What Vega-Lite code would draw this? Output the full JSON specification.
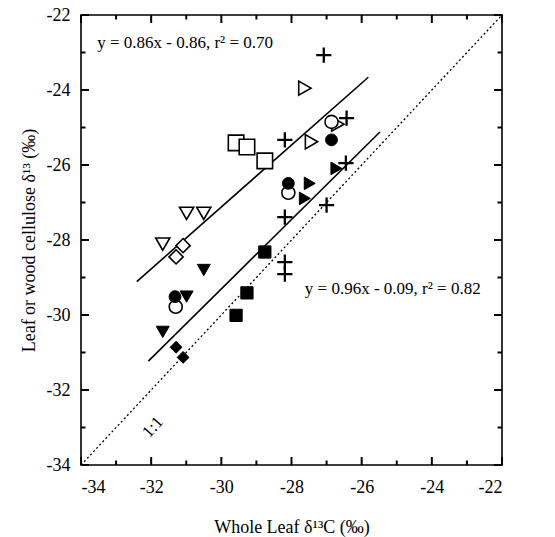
{
  "$schema": "https://vega.github.io/schema/vega-lite/v6.json",
  "width": 421,
  "height": 450,
  "autosize": {"type": "none"},
  "padding": {"left": 81, "top": 15, "right": 53, "bottom": 72},
  "background": "white",
  "config": {
    "view": {"stroke": "black", "strokeWidth": 1.6},
    "axis": {
      "grid": false,
      "domain": false,
      "ticks": false,
      "tickSize": 0,
      "labelFont": "Liberation Serif",
      "labelFontSize": 18,
      "labelColor": "black",
      "labelOverlap": false,
      "titleFont": "Liberation Serif",
      "titleFontSize": 18,
      "titleFontWeight": "normal",
      "titleColor": "black"
    },
    "text": {"font": "Liberation Serif"},
    "tick": {"color": "black", "opacity": 1, "thickness": 2}
  },
  "datasets": {
    "points": [
      {"x": -29.58, "y": -25.41, "group": "A"},
      {"x": -29.27, "y": -25.52, "group": "A"},
      {"x": -28.76, "y": -25.89, "group": "A"},
      {"x": -30.99, "y": -27.29, "group": "C"},
      {"x": -30.50, "y": -27.29, "group": "C"},
      {"x": -31.67, "y": -28.11, "group": "C"},
      {"x": -31.09, "y": -28.15, "group": "E"},
      {"x": -31.29, "y": -28.45, "group": "E"},
      {"x": -30.50, "y": -28.80, "group": "D"},
      {"x": -31.67, "y": -30.45, "group": "D"},
      {"x": -31.30, "y": -29.78, "group": "G"},
      {"x": -30.99, "y": -29.51, "group": "D"},
      {"x": -31.32, "y": -29.51, "group": "H"},
      {"x": -31.29, "y": -30.86, "group": "F"},
      {"x": -31.09, "y": -31.13, "group": "F"},
      {"x": -28.76, "y": -28.32, "group": "B"},
      {"x": -29.27, "y": -29.41, "group": "B"},
      {"x": -29.58, "y": -30.01, "group": "B"},
      {"x": -27.62, "y": -23.95, "group": "I"},
      {"x": -26.68, "y": -24.91, "group": "I"},
      {"x": -26.86, "y": -24.85, "group": "G"},
      {"x": -27.43, "y": -25.38, "group": "I"},
      {"x": -26.86, "y": -25.33, "group": "H"},
      {"x": -28.09, "y": -26.74, "group": "G"},
      {"x": -28.09, "y": -26.49, "group": "H"},
      {"x": -27.48, "y": -26.49, "group": "J"},
      {"x": -27.62, "y": -26.89, "group": "J"},
      {"x": -26.72, "y": -26.09, "group": "J"},
      {"x": -27.08, "y": -23.07, "group": "K"},
      {"x": -26.43, "y": -24.75, "group": "K"},
      {"x": -28.19, "y": -25.33, "group": "K"},
      {"x": -28.19, "y": -27.39, "group": "K"},
      {"x": -28.19, "y": -28.59, "group": "K"},
      {"x": -28.19, "y": -28.91, "group": "K"},
      {"x": -27.00, "y": -27.07, "group": "K"},
      {"x": -26.45, "y": -25.95, "group": "K"}
    ],
    "fits": [
      {"line": "upper", "x": -32.41, "y": -29.11},
      {"line": "upper", "x": -25.81, "y": -23.66},
      {"line": "lower", "x": -32.08, "y": -31.23},
      {"line": "lower", "x": -25.48, "y": -25.12}
    ],
    "oneToOne": [
      {"x": -34, "y": -34},
      {"x": -22, "y": -22}
    ],
    "notes": [
      {"x": -33.54, "y": -22.75, "label": "y = 0.86x - 0.86, r² = 0.70"},
      {"x": -27.62, "y": -29.31, "label": "y = 0.96x - 0.09, r² = 0.82"}
    ],
    "ratio": [
      {"x": -31.95, "y": -32.99, "label": "1:1"}
    ],
    "majorTicks": [{"v": -34}, {"v": -32}, {"v": -30}, {"v": -28}, {"v": -26}, {"v": -24}, {"v": -22}],
    "minorTicks": [{"v": -33}, {"v": -31}, {"v": -29}, {"v": -27}, {"v": -25}, {"v": -23}]
  },
  "layer": [
    {
      "data": {"name": "oneToOne"},
      "mark": {"type": "line", "color": "black", "strokeWidth": 1.3, "strokeDash": [2, 2.5]},
      "encoding": {
        "x": {"field": "x", "type": "quantitative", "scale": {"domain": [-34, -22], "nice": false, "zero": false},
          "axis": {"orient": "bottom", "title": "Whole Leaf δ¹³C (‰)", "values": [-34,-32,-30,-28,-26,-24,-22],
            "labelExpr": "'' + datum.value",
            "labelPadding": 13, "titlePadding": 22}},
        "y": {"field": "y", "type": "quantitative", "scale": {"domain": [-34, -22], "nice": false, "zero": false},
          "axis": {"orient": "left", "title": "Leaf or wood cellulose δ¹³ (‰)", "values": [-34,-32,-30,-28,-26,-24,-22],
            "labelExpr": "'' + datum.value",
            "labelPadding": 11, "titlePadding": 8}}
      }
    },
    {
      "data": {"name": "majorTicks"},
      "mark": {"type": "tick", "orient": "vertical", "size": 8, "yOffset": -4},
      "encoding": {"x": {"field": "v", "type": "quantitative"}, "y": {"datum": -34, "type": "quantitative"}}
    },
    {
      "data": {"name": "minorTicks"},
      "mark": {"type": "tick", "orient": "vertical", "size": 4.5, "yOffset": -2.25},
      "encoding": {"x": {"field": "v", "type": "quantitative"}, "y": {"datum": -34, "type": "quantitative"}}
    },
    {
      "data": {"name": "majorTicks"},
      "mark": {"type": "tick", "orient": "vertical", "size": 8, "yOffset": 4},
      "encoding": {"x": {"field": "v", "type": "quantitative"}, "y": {"datum": -22, "type": "quantitative"}}
    },
    {
      "data": {"name": "minorTicks"},
      "mark": {"type": "tick", "orient": "vertical", "size": 4.5, "yOffset": 2.25},
      "encoding": {"x": {"field": "v", "type": "quantitative"}, "y": {"datum": -22, "type": "quantitative"}}
    },
    {
      "data": {"name": "majorTicks"},
      "mark": {"type": "tick", "orient": "horizontal", "size": 8, "xOffset": 4},
      "encoding": {"y": {"field": "v", "type": "quantitative"}, "x": {"datum": -34, "type": "quantitative"}}
    },
    {
      "data": {"name": "minorTicks"},
      "mark": {"type": "tick", "orient": "horizontal", "size": 4.5, "xOffset": 2.25},
      "encoding": {"y": {"field": "v", "type": "quantitative"}, "x": {"datum": -34, "type": "quantitative"}}
    },
    {
      "data": {"name": "majorTicks"},
      "mark": {"type": "tick", "orient": "horizontal", "size": 8, "xOffset": -4},
      "encoding": {"y": {"field": "v", "type": "quantitative"}, "x": {"datum": -22, "type": "quantitative"}}
    },
    {
      "data": {"name": "minorTicks"},
      "mark": {"type": "tick", "orient": "horizontal", "size": 4.5, "xOffset": -2.25},
      "encoding": {"y": {"field": "v", "type": "quantitative"}, "x": {"datum": -22, "type": "quantitative"}}
    },
    {
      "data": {"name": "fits"},
      "mark": {"type": "line", "color": "black", "strokeWidth": 1.6},
      "encoding": {
        "x": {"field": "x", "type": "quantitative"},
        "y": {"field": "y", "type": "quantitative"},
        "detail": {"field": "line", "type": "nominal"}
      }
    },
    {
      "data": {"name": "points"},
      "mark": {"type": "point", "filled": true, "stroke": "black", "opacity": 1},
      "encoding": {
        "x": {"field": "x", "type": "quantitative"},
        "y": {"field": "y", "type": "quantitative"},
        "shape": {"field": "group", "type": "nominal", "legend": null,
          "scale": {"domain": ["A","B","C","D","E","F","G","H","I","J","K"],
            "range": ["square","square","triangle-down","triangle-down","diamond","diamond","circle","circle","triangle-right","triangle-right","M-1,0H1M0,-1V1"]}},
        "fill": {"field": "group", "type": "nominal", "legend": null,
          "scale": {"domain": ["A","B","C","D","E","F","G","H","I","J","K"],
            "range": ["white","black","white","black","white","black","white","black","white","black","black"]}},
        "size": {"field": "group", "type": "nominal", "legend": null,
          "scale": {"type": "ordinal", "domain": ["A","B","C","D","E","F","G","H","I","J","K"],
            "range": [240, 150, 200, 170, 200, 140, 170, 140, 200, 160, 230]}},
        "strokeWidth": {"field": "group", "type": "nominal", "legend": null,
          "scale": {"type": "ordinal", "domain": ["A","B","C","D","E","F","G","H","I","J","K"],
            "range": [1.6, 1, 1.6, 1, 1.6, 1, 1.6, 1, 1.6, 1, 2.3]}}
      }
    },
    {
      "data": {"name": "notes"},
      "mark": {"type": "text", "align": "left", "baseline": "middle", "fontSize": 17, "color": "black"},
      "encoding": {
        "x": {"field": "x", "type": "quantitative"},
        "y": {"field": "y", "type": "quantitative"},
        "text": {"field": "label"}
      }
    },
    {
      "data": {"name": "ratio"},
      "mark": {"type": "text", "align": "center", "baseline": "middle", "fontSize": 17, "angle": 312, "color": "black"},
      "encoding": {
        "x": {"field": "x", "type": "quantitative"},
        "y": {"field": "y", "type": "quantitative"},
        "text": {"field": "label"}
      }
    }
  ]
}
